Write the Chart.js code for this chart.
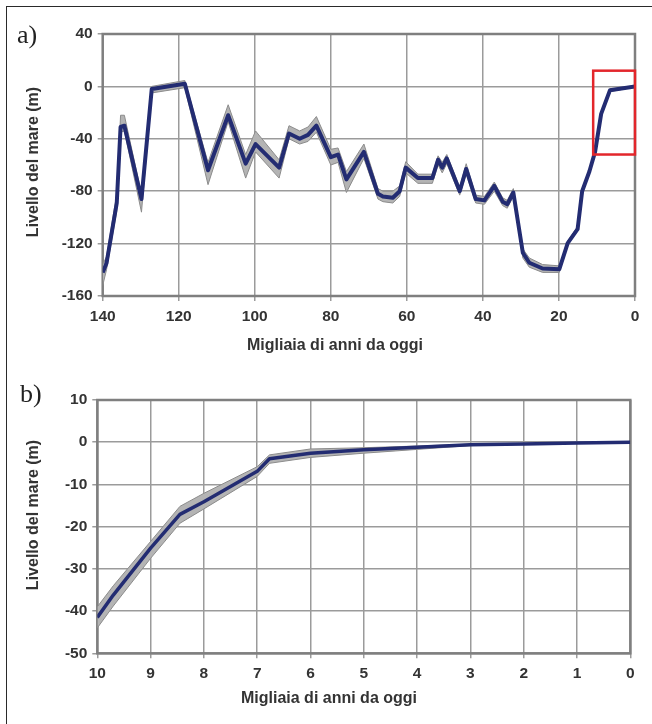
<!DOCTYPE html>
<html><head><meta charset="utf-8">
<script src="https://cdn.jsdelivr.net/npm/chart.js@4.4.1/dist/chart.umd.min.js"></script>
<style>
html,body{margin:0;padding:0;background:#fff;}
#wrap{position:relative;width:652px;height:724px;overflow:hidden;background:#fff;}
#frame{position:absolute;left:6px;top:6px;width:700px;height:800px;border-left:1.5px solid #2a2a2a;border-top:1.5px solid #2a2a2a;}
canvas{position:absolute;left:0;}
#ca{top:0px;}
#cb{top:362px;}
</style></head><body>
<div id="wrap"><div id="frame"></div>
<canvas id="ca" width="652" height="362"></canvas>
<canvas id="cb" width="652" height="362"></canvas>
</div>
<script>
// ---------- Panel a: last 140 kyr ----------
const kyrA   = [140, 139, 136.3, 135.3, 134.3, 129.8, 127.1, 118.4, 112.3, 107, 102.4, 99.8, 93.6, 91, 88.2, 86, 83.8, 80, 78.1, 75.9, 71.3, 67.6, 66.3, 63.7, 61.9, 60.3, 57.1, 53.3, 51.8, 50.7, 49.5, 46.1, 44.4, 41.9, 39.6, 37, 34.8, 33.6, 32, 29.5, 27.8, 24.3, 19.9, 17.7, 15.1, 13.9, 12, 10.5, 8.9, 6.6, 0];
const seaA   = [-142, -135, -89, -31, -30, -86, -2, 2, -64, -22, -59, -44, -62, -36, -40, -37, -30, -54, -52, -71, -50, -82, -84, -85, -80, -62, -70, -70, -56, -62, -55, -80, -63, -86, -87, -76, -88, -90, -81, -127, -134.6, -139, -139.5, -119.6, -109, -80, -65, -50, -21, -3, 0];
const seaAUp = [-136, -130, -82, -22, -22, -82, 0, 4.5, -58, -14, -52, -34, -56, -30, -34, -31, -23, -48, -47, -65, -44, -78, -80, -80, -76, -57.5, -67, -67, -53, -58, -52, -77, -59, -83, -84, -73, -85, -87, -78, -124, -131, -136, -137, -118, -107, -78, -63, -49, -20, -2, 0.5];
const seaALo = [-152, -140, -95, -35, -34, -96, -5, -1, -75, -27, -70, -50, -70, -40, -44, -42, -35, -60, -58, -81, -55, -86, -88, -89, -84, -66, -74, -74, -60, -66, -59, -83, -67, -89, -90, -80, -91, -93, -84, -131, -138, -142, -142, -121, -110, -81, -66, -51, -22, -4, -0.5];
const xTicksA = [140, 120, 100, 80, 60, 40, 20, 0];
const yTicksA = [40, 0, -40, -80, -120, -160];
const zoomBoxKyr = [11, 0];
const zoomBoxSea = [-52, 12];

// ---------- Panel b: last 10 kyr ----------
const kyrB   = [10, 9.7, 9, 8.45, 8, 7, 6.77, 6, 5, 4, 3, 2, 1, 0];
const seaB   = [-41.5, -36.2, -25.1, -17.1, -14.1, -6.9, -3.9, -2.6, -1.8, -1.2, -0.6, -0.4, -0.2, 0];
const seaBUp = [-39, -34, -23.5, -15.2, -12.1, -5.8, -3, -1.6, -1.3, -0.9, -0.45, -0.3, -0.15, 0.05];
const seaBLo = [-44, -38.8, -27.5, -19.2, -15.8, -8.1, -5, -3.6, -2.6, -1.7, -0.8, -0.5, -0.25, -0.05];
const xTicksB = [10, 9, 8, 7, 6, 5, 4, 3, 2, 1, 0];
const yTicksB = [10, 0, -10, -20, -30, -40, -50];

// ---------- Texts ----------
const panelLabels = ['a)', 'b)'];
const xTitle = 'Migliaia di anni da oggi';
const yTitle = 'Livello del mare (m)';
const seriesName = 'Livello del mare';

Chart.defaults.font.family = "'Liberation Sans', Arial, sans-serif";
Chart.defaults.color = '#333';

const TXT = '#333';
const GRID = '#9b9b9b';
const FRAME = '#7f7f7f';
const NAVY = '#232c72';
const BAND = '#b4b4b4';
const BAND_EDGE = '#8c8c8c';

function pts(xs, ys) { return xs.map((x, i) => ({ x: x, y: ys[i] })); }

function decorPlugin(p) {
  return {
    id: 'decor',
    beforeDatasetsDraw(chart) {
      const a = chart.chartArea, ctx = chart.ctx;
      ctx.save();
      ctx.strokeStyle = FRAME;
      ctx.lineWidth = 2.5;
      ctx.strokeRect(a.left, a.top, a.right - a.left, a.bottom - a.top);
      ctx.restore();
    },
    afterDatasetsDraw(chart) {
      if (!p.box) return;
      const ctx = chart.ctx, xs = chart.scales.x, ys = chart.scales.y;
      const x1 = xs.getPixelForValue(p.box.x[0]), x2 = xs.getPixelForValue(p.box.x[1]);
      const y1 = ys.getPixelForValue(p.box.y[1]), y2 = ys.getPixelForValue(p.box.y[0]);
      ctx.save();
      ctx.strokeStyle = '#e3262b';
      ctx.lineWidth = 2.5;
      ctx.strokeRect(x1, y1, x2 - x1, y2 - y1);
      ctx.restore();
    },
    afterDraw(chart) {
      const ctx = chart.ctx;
      ctx.save();
      ctx.fillStyle = '#222';
      ctx.font = "26px 'Liberation Serif', 'DejaVu Serif', serif";
      ctx.textAlign = 'left';
      ctx.textBaseline = 'alphabetic';
      ctx.fillText(p.label, p.labelX, p.labelY);
      ctx.fillStyle = TXT;
      ctx.font = "bold 16px 'Liberation Sans', Arial, sans-serif";
      ctx.textAlign = 'center';
      ctx.fillText(xTitle, p.xtX, p.xtY);
      ctx.translate(p.ytX, p.ytY);
      ctx.rotate(-Math.PI / 2);
      ctx.textBaseline = 'middle';
      ctx.fillText(yTitle, 0, 0);
      ctx.restore();
    }
  };
}

function makeChart(id, o) {
  const tickFont = { family: "'Liberation Sans', Arial, sans-serif", size: 15.5, weight: 'bold' };
  return new Chart(document.getElementById(id), {
    type: 'line',
    data: {
      datasets: [
        { label: seriesName, data: pts(o.xs, o.ys), borderColor: NAVY, borderWidth: o.lw, pointRadius: 0, tension: 0, fill: false, borderJoinStyle: 'round' },
        { label: 'max', data: pts(o.xs, o.up), borderColor: BAND_EDGE, borderWidth: 1, pointRadius: 0, tension: 0, fill: false },
        { label: 'min', data: pts(o.xs, o.lo), borderColor: BAND_EDGE, borderWidth: 1, pointRadius: 0, tension: 0, fill: '-1', backgroundColor: BAND }
      ]
    },
    options: {
      responsive: false,
      animation: false,
      devicePixelRatio: 1,
      layout: { padding: o.pad },
      plugins: { legend: { display: false }, tooltip: { enabled: false } },
      scales: {
        x: {
          type: 'linear', reverse: true, min: o.xmin, max: o.xmax,
          afterBuildTicks: s => { s.ticks = o.xticks.map(v => ({ value: v })); },
          afterFit: s => { s.height = o.xh; },
          grid: { color: GRID, lineWidth: 1.5, tickLength: 5, drawTicks: true },
          border: { display: false },
          ticks: { color: TXT, font: tickFont, padding: 6, maxRotation: 0, autoSkip: false }
        },
        y: {
          type: 'linear', min: o.ymin, max: o.ymax,
          afterBuildTicks: s => { s.ticks = o.yticks.map(v => ({ value: v })); },
          afterFit: s => { s.width = o.yw; },
          grid: { color: GRID, lineWidth: 1.5, tickLength: 5, drawTicks: true },
          border: { display: false },
          ticks: { color: TXT, font: tickFont, padding: 5 }
        }
      }
    },
    plugins: [decorPlugin(o.decor)]
  });
}

makeChart('ca', {
  xs: kyrA, ys: seaA, up: seaAUp, lo: seaALo, lw: 4,
  xmin: 0, xmax: 140, ymin: -160, ymax: 40, xticks: xTicksA, yticks: yTicksA,
  pad: { left: 0, right: 17, top: 34, bottom: 0 }, xh: 66, yw: 102.7,
  decor: { label: panelLabels[0], labelX: 17, labelY: 43, xtX: 335, xtY: 350, ytX: 34, ytY: 162,
           box: { x: zoomBoxKyr, y: zoomBoxSea } }
});

makeChart('cb', {
  xs: kyrB, ys: seaB, up: seaBUp, lo: seaBLo, lw: 3.5,
  xmin: 0, xmax: 10, ymin: -50, ymax: 10, xticks: xTicksB, yticks: yTicksB,
  pad: { left: 0, right: 21.7, top: 38, bottom: 0 }, xh: 70.7, yw: 97.3,
  decor: { label: panelLabels[1], labelX: 20, labelY: 40, xtX: 329, xtY: 341, ytX: 34, ytY: 153 }
});
</script>
</body></html>
